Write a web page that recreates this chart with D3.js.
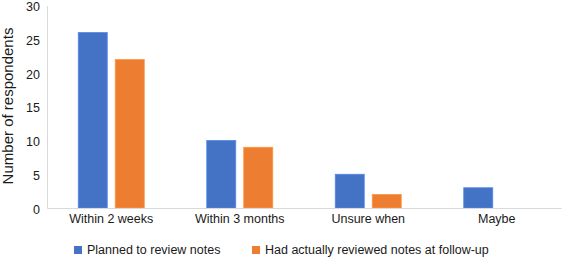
<!DOCTYPE html>
<html>
<head>
<meta charset="utf-8">
<script src="https://cdn.jsdelivr.net/npm/d3@7"></script>
<style>
  body { margin: 0; background: #fff; }
  svg { display: block; font-family: "Liberation Sans", Arial, sans-serif; }
</style>
</head>
<body>
<div id="chart"></div>
<script>
const categories = ["Within 2 weeks", "Within 3 months", "Unsure when", "Maybe"]
const seriesNames = ["Planned to review notes", "Had actually reviewed notes at follow-up"]
const planned = [26, 10, 5, 3]
const reviewed = [22, 9, 2, 0]
const yTicks = [0, 5, 10, 15, 20, 25, 30]
const colors = ["#4472C4", "#ED7D31"]

const width = 563
const height = 258
const marginLeft = 47
const marginRight = 2
const marginTop = 5.6
const plotBottom = 208

const data = categories.map((c, i) => ({ category: c, values: [planned[i], reviewed[i]] }))

const x0 = d3.scaleBand().domain(categories).range([marginLeft, width - marginRight])
const groupWidth = 66
const x1 = d3.scaleBand().domain([0, 1]).range([0, groupWidth]).paddingInner(0.216)
const y = d3.scaleLinear().domain([0, 30]).range([plotBottom, marginTop])

const svg = d3.create("svg")
  .attr("width", width)
  .attr("height", height)
  .attr("viewBox", [0, 0, width, height])

// y axis
const yAxis = d3.axisLeft(y).tickValues(yTicks).tickSize(0).tickPadding(7)
svg.append("g")
  .attr("transform", `translate(${marginLeft},0)`)
  .call(yAxis)
  .call(g => g.select(".domain").attr("stroke", "#d9d9d9"))
  .call(g => g.selectAll("text").attr("font-size", 12.5).attr("fill", "#1a1a1a").attr("dy", "0.4em"))

// bars
svg.append("g")
  .selectAll("g")
  .data(data)
  .join("g")
  .attr("transform", d => `translate(${x0(d.category) + (x0.bandwidth() - groupWidth) / 2},0)`)
  .selectAll("rect")
  .data(d => d.values.map((v, i) => ({ v, i })).filter(d => d.v > 0))
  .join("rect")
  .attr("x", d => x1(d.i))
  .attr("y", d => y(d.v))
  .attr("width", x1.bandwidth())
  .attr("height", d => y(0) - y(d.v))
  .attr("fill", d => colors[d.i])
  .attr("stroke", d => d3.color(colors[d.i]).brighter(0.5))
  .attr("stroke-width", 0.8)

// x axis
const xAxis = d3.axisBottom(x0).tickSize(0).tickPadding(6)
svg.append("g")
  .attr("transform", `translate(0,${plotBottom})`)
  .call(xAxis)
  .call(g => g.select(".domain").attr("stroke", "#d9d9d9"))
  .call(g => g.selectAll("text").attr("font-size", 12.5).attr("fill", "#1a1a1a"))

// y label
svg.append("text")
  .attr("transform", `translate(12.5,106) rotate(-90)`)
  .attr("text-anchor", "middle")
  .attr("font-size", 15)
  .attr("fill", "#1a1a1a")
  .text("Number of respondents")

// legend
const legendX = [74, 252]
const legend = svg.append("g")
  .selectAll("g")
  .data(seriesNames)
  .join("g")
  .attr("transform", (d, i) => `translate(${legendX[i]},246)`)
legend.append("rect")
  .attr("width", 8)
  .attr("height", 8)
  .attr("fill", (d, i) => colors[i])
legend.append("text")
  .attr("x", 13)
  .attr("y", 4)
  .attr("dy", "0.35em")
  .attr("font-size", 12.5)
  .attr("fill", "#1a1a1a")
  .text(d => d)

document.querySelector("#chart").append(svg.node())
</script>
</body>
</html>
